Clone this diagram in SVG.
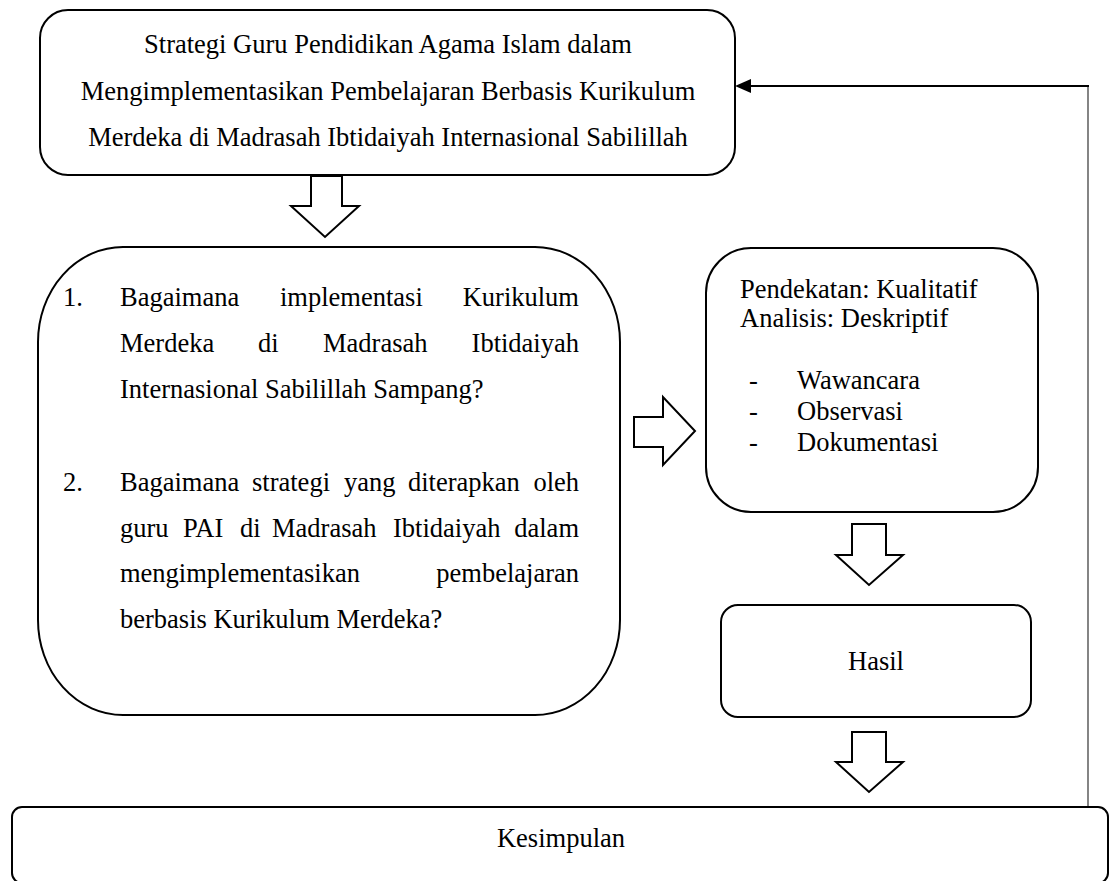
<svg xmlns="http://www.w3.org/2000/svg" width="1110" height="881" viewBox="0 0 1110 881">
<style>
.box{fill:#fff;stroke:#000;stroke-width:2}
.blk{fill:#fff;stroke:#000;stroke-width:2;stroke-linejoin:miter}
text{font-family:"Liberation Serif","Times New Roman",serif;font-size:26.5px;fill:#000}
.c{text-anchor:middle}
.e{text-anchor:end}
</style>
<rect x="0" y="0" width="1110" height="881" fill="#fff"/>
<g id="connectors">
<line x1="1088" y1="807" x2="1088" y2="86" stroke="#333" stroke-width="1.2"/>
<line x1="1089" y1="86" x2="750" y2="86" stroke="#000" stroke-width="2"/>
<polygon points="735,86 751,79 751,93" fill="#000"/>
<polygon class="blk" points="311,176 342,176 342,206 359,206 325,237 291,206 311,206"/>
<polygon class="blk" points="634,417 663,417 663,397 695,431 663,465 663,447 634,447"/>
<polygon class="blk" points="852,524 886,524 886,555 903,555 869,585 836,555 852,555"/>
<polygon class="blk" points="852,732 886,732 886,762 903,762 869,792 836,762 852,762"/>
</g>
<g id="node-title">
<rect class="box" x="40" y="10" width="695" height="165" rx="28" ry="28"/>
<text class="c" x="388" y="53">Strategi Guru Pendidikan Agama Islam dalam</text>
<text class="c" x="388" y="100">Mengimplementasikan Pembelajaran Berbasis Kurikulum</text>
<text class="c" x="388" y="146">Merdeka di Madrasah Ibtidaiyah Internasional Sabilillah</text>
</g>
<g id="node-questions">
<rect class="box" x="38" y="247" width="582" height="468" rx="85" ry="95"/>
<text x="63" y="306">1.</text>
<text x="120" y="306">Bagaimana</text>
<text x="280" y="306">implementasi</text>
<text class="e" x="579" y="306">Kurikulum</text>
<text x="120" y="352">Merdeka</text>
<text x="258" y="352">di</text>
<text x="323" y="352">Madrasah</text>
<text class="e" x="579" y="352">Ibtidaiyah</text>
<text x="120" y="398">Internasional Sabilillah Sampang?</text>
<text x="63" y="491">2.</text>
<text x="120" y="491">Bagaimana</text>
<text x="252" y="491">strategi</text>
<text x="344" y="491">yang</text>
<text x="408" y="491">diterapkan</text>
<text class="e" x="579" y="491">oleh</text>
<text x="120" y="537">guru</text>
<text x="183" y="537">PAI</text>
<text x="240" y="537">di</text>
<text x="272" y="537">Madrasah</text>
<text x="393" y="537">Ibtidaiyah</text>
<text class="e" x="579" y="537">dalam</text>
<text x="120" y="582">mengimplementasikan</text>
<text class="e" x="579" y="582">pembelajaran</text>
<text x="120" y="628">berbasis Kurikulum Merdeka?</text>
</g>
<g id="node-method">
<rect class="box" x="706" y="248" width="332" height="264" rx="45" ry="45"/>
<text x="740" y="298">Pendekatan: Kualitatif</text>
<text x="740" y="327">Analisis: Deskriptif</text>
<text x="749" y="389">-</text>
<text x="797" y="389">Wawancara</text>
<text x="749" y="420">-</text>
<text x="797" y="420">Observasi</text>
<text x="749" y="451">-</text>
<text x="797" y="451">Dokumentasi</text>
</g>
<g id="node-hasil">
<rect class="box" x="721" y="605" width="310" height="112" rx="17" ry="17"/>
<text class="c" x="876" y="670">Hasil</text>
</g>
<g id="node-kesimpulan">
<rect class="box" x="12" y="807" width="1096" height="76" rx="10" ry="10"/>
<text class="c" x="561" y="847">Kesimpulan</text>
</g>
</svg>
